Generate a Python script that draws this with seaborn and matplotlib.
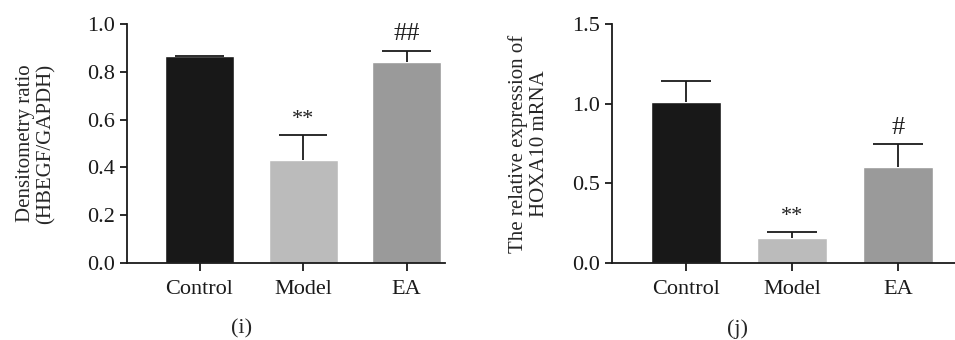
import numpy as np
import pandas as pd
import seaborn as sns
import matplotlib.pyplot as plt

# data
groups = ["Control", "Model", "EA"]
hbegf_mean = [0.866, 0.431, 0.841]
hbegf_err = [0.002, 0.106, 0.047]
hbegf_marks = ["", "**", "##"]
hoxa10_mean = [1.008, 0.157, 0.602]
hoxa10_err = [0.136, 0.039, 0.143]
hoxa10_marks = ["", "**", "#"]
bar_colors = ["#181818", "#bbbbbb", "#9a9a9a"]

sns.set_style("ticks")
plt.rcParams["font.family"] = ["Liberation Serif", "DejaVu Serif"]
plt.rcParams["font.size"] = 16


def draw_panel(ax, means, errs, marks, ylim, yticks, ylabel, xright, label_x):
    df = pd.DataFrame({"group": groups, "value": means})
    sns.barplot(data=df, x="group", y="value", hue="group", palette=bar_colors,
                width=0.667, legend=False, ax=ax, saturation=1, errorbar=None)
    # upper-only error bars (stem + cap)
    x = np.arange(len(means))
    tops = np.array(means) + np.array(errs)
    ax.vlines(x, means, tops, color="#1a1a1a", linewidth=1.3, zorder=1)
    ax.hlines(tops, x - 0.235, x + 0.235, color="#1a1a1a", linewidth=1.3, zorder=3)
    for i, m in enumerate(marks):
        if m:
            fs = 19 if "#" in m else 16
            ax.annotate(m, (i, tops[i]), xytext=(0, 4),
                        textcoords="offset points", ha="center", va="bottom",
                        fontsize=fs, color="#222222")
    ax.set_ylim(*ylim)
    ax.set_xlim(-0.7, xright)
    ax.set_yticks(yticks)
    ax.set_yticklabels([f"{t:.1f}" for t in yticks])
    ax.set_xlabel("")
    ax.set_ylabel(ylabel, fontsize=15, linespacing=1.1)
    ax.yaxis.set_label_coords(label_x, 0.5)
    sns.despine(ax=ax)
    for s in ["left", "bottom"]:
        ax.spines[s].set_linewidth(1.3)
        ax.spines[s].set_color("#1a1a1a")
    ax.tick_params(axis="y", length=5, width=1.3, colors="#1a1a1a", labelsize=16)
    ax.tick_params(axis="x", length=6, width=1.3, colors="#1a1a1a", labelsize=16, pad=6)


fig = plt.figure(figsize=(9.55, 3.4), dpi=100)
W, H = 955, 340
ax1 = fig.add_axes([127 / W, (H - 263) / H, (445 - 127) / W, 239 / H])
ax2 = fig.add_axes([612 / W, (H - 263) / H, (955 - 612) / W, 239 / H])

draw_panel(ax1, hbegf_mean, hbegf_err, hbegf_marks, (0, 1.0),
           [0.0, 0.2, 0.4, 0.6, 0.8, 1.0],
           "Densitometry ratio\n(HBEGF/GAPDH)", 2.37, -0.225)
draw_panel(ax2, hoxa10_mean, hoxa10_err, hoxa10_marks, (0, 1.5),
           [0.0, 0.5, 1.0, 1.5],
           "The relative expression of\nHOXA10 mRNA", 2.54, -0.185)

fig.text(242 / W, 1 - 329 / H, "(i)", ha="center", va="center", fontsize=16)
fig.text(737 / W, 1 - 329 / H, "(j)", ha="center", va="center", fontsize=16)

fig.savefig("out.png", dpi=100)
